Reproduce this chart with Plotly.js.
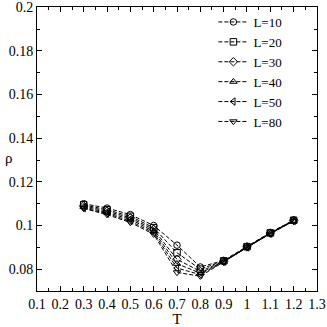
<!DOCTYPE html>
<html>
<head>
<meta charset="utf-8">
<script src="https://cdn.plot.ly/plotly-3.0.1.min.js"></script>
<style>
  html, body { margin: 0; padding: 0; background: #fff; }
  #chart { width: 327px; height: 327px; }
</style>
</head>
<body>
<div id="chart"></div>
<script>
const temps = [0.3, 0.4, 0.5, 0.6, 0.7, 0.8, 0.9, 1.0, 1.1, 1.2];
const sizes = ["L=10", "L=20", "L=30", "L=40", "L=50", "L=80"];
const rhoL10 = [0.110, 0.108, 0.105, 0.100, 0.091, 0.081, 0.0840, 0.0905, 0.0968, 0.1025];
const rhoL20 = [0.1095, 0.1072, 0.1042, 0.0990, 0.0875, 0.0800, 0.0838, 0.0903, 0.0966, 0.1024];
const rhoL30 = [0.1090, 0.1066, 0.1035, 0.0982, 0.0845, 0.0790, 0.0836, 0.0902, 0.0965, 0.1023];
const rhoL40 = [0.1085, 0.1060, 0.1028, 0.0974, 0.0825, 0.0782, 0.0835, 0.0901, 0.0964, 0.1022];
const rhoL50 = [0.1080, 0.1055, 0.1020, 0.0967, 0.0805, 0.0775, 0.0834, 0.0900, 0.0963, 0.1021];
const rhoL80 = [0.1078, 0.1050, 0.1014, 0.0960, 0.0785, 0.0768, 0.0833, 0.0900, 0.0962, 0.1020];
const xTicks = [0.1, 0.2, 0.3, 0.4, 0.5, 0.6, 0.7, 0.8, 0.9, 1, 1.1, 1.2, 1.3];
const yTicks = [0.08, 0.1, 0.12, 0.14, 0.16, 0.18, 0.2];
const series = [rhoL10, rhoL20, rhoL30, rhoL40, rhoL50, rhoL80];
const symbols = ["circle-open", "square-open", "diamond-open", "triangle-up-open", "triangle-left-open", "triangle-down-open"];

const traces = series.map((ys, i) => ({
  type: "scatter",
  mode: "lines+markers",
  name: sizes[i],
  x: temps,
  y: ys,
  line: { color: "#000", width: 1, dash: "4px,2px" },
  marker: { symbol: symbols[i], color: "#000", size: 6.5, line: { width: 1, color: "#000" } },
}));

const serif = "Liberation Serif, Times New Roman, serif";
const axisBase = {
  showline: true,
  linecolor: "#000",
  linewidth: 1,
  mirror: "ticks",
  ticks: "inside",
  ticklen: 5,
  tickcolor: "#000",
  showgrid: false,
  zeroline: false,
  ticklabeloverflow: "allow",
  tickfont: { family: serif, size: 14, color: "#000" },
};

const layout = {
  width: 327,
  height: 327,
  margin: { l: 37, r: 10, t: 7, b: 36 },
  paper_bgcolor: "#fff",
  plot_bgcolor: "#fff",
  showlegend: true,
  legend: {
    x: 0.63, y: 1.0, xanchor: "left", yanchor: "top",
    font: { family: serif, size: 13, color: "#000" },
    bgcolor: "rgba(0,0,0,0)",
    itemwidth: 30,
    tracegroupgap: 0,
  },
  xaxis: Object.assign({}, axisBase, {
    range: [0.0999, 1.3001],
    tickmode: "array",
    tickvals: xTicks,
    ticktext: xTicks.map(String),
    minor: { tickmode: "linear", tick0: 0.05, dtick: 0.1, ticks: "inside", ticklen: 3, tickcolor: "#000" },
    title: { text: "T", font: { family: serif, size: 15, color: "#000" }, standoff: 2 },
  }),
  yaxis: Object.assign({}, axisBase, {
    range: [0.07, 0.2001],
    tickmode: "array",
    tickvals: yTicks,
    ticktext: yTicks.map(String),
    minor: { tickmode: "linear", tick0: 0.07, dtick: 0.02, ticks: "inside", ticklen: 3, tickcolor: "#000" },
  }),
  annotations: [{
    text: "ρ", xref: "paper", yref: "paper", x: -0.1, y: 0.47,
    xanchor: "center", yanchor: "middle", showarrow: false,
    font: { family: serif, size: 15, color: "#000" },
  }],
};

Plotly.newPlot("chart", traces, layout, { displayModeBar: false, staticPlot: true });
</script>
</body>
</html>
